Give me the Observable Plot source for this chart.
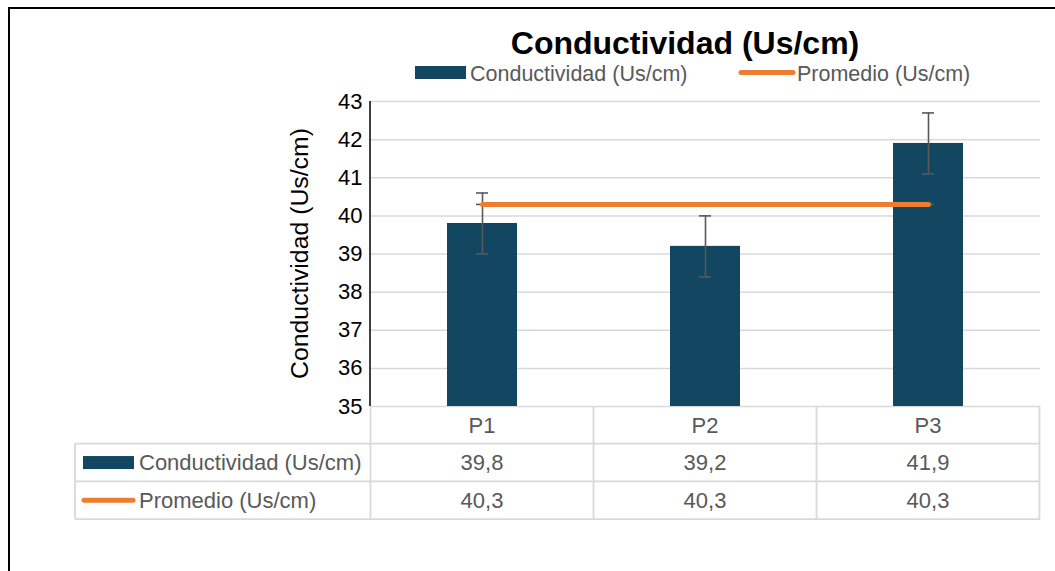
<!DOCTYPE html>
<html>
<head>
<meta charset="utf-8">
<script src="https://cdn.jsdelivr.net/npm/d3@7"></script>
<script src="https://cdn.jsdelivr.net/npm/@observablehq/plot@0.6"></script>
<style>
  body { margin: 0; background: #fff; }
  #wrap { position: relative; width: 1055px; height: 571px; overflow: hidden; background: #fff; }
  #frame { position: absolute; left: 8px; top: 7px; width: 1200px; height: 800px; border-left: 2px solid #000; border-top: 2px solid #000; }
  #chart { position: absolute; left: 0; top: 0; }
</style>
</head>
<body>
<div id="wrap"><div id="frame"></div><div id="chart"></div></div>
<script>
// ---- data ----
const categories = ["P1", "P2", "P3"];
const conductividad = [39.8, 39.2, 41.9];
const errores = [0.8, 0.8, 0.8];
const promedio = [40.3, 40.3, 40.3];
const yTicks = [35, 36, 37, 38, 39, 40, 41, 42, 43];
const seriesNames = ["Conductividad (Us/cm)", "Promedio (Us/cm)"];
const titleText = "Conductividad (Us/cm)";
const yLabel = "Conductividad (Us/cm)";

const FONT = "'Liberation Sans', Arial, sans-serif";
const BAR = "#124661";
const ORANGE = "#ED7D31";
const ERR = "#595959";
const GRID = "#d9d9d9";
const TXT = "#595959";

const data = categories.map((c, i) => ({cat: c, value: conductividad[i], err: errores[i], avg: promedio[i]}));
const fmt = v => v.toFixed(1).replace(".", ",");

const chart = Plot.plot({
  width: 1055,
  height: 571,
  marginTop: 101,
  marginBottom: 165,
  marginLeft: 370,
  marginRight: 15,
  style: {fontFamily: FONT, background: "transparent", overflow: "visible"},
  x: {domain: categories, paddingInner: 0.686, paddingOuter: 0.343, axis: null},
  y: {domain: [yTicks[0], yTicks[yTicks.length - 1]]},
  marks: [
    Plot.gridY(yTicks, {stroke: GRID, strokeOpacity: 1, strokeWidth: 1.5}),
    Plot.barY(data, {x: "cat", y1: () => yTicks[0], y2: "value", fill: BAR}),
    Plot.ruleX(data, {x: "cat", y1: d => d.value - d.err, y2: d => d.value + d.err, stroke: ERR, strokeWidth: 1.6}),
    Plot.tickY(data, {x: "cat", y: d => d.value - d.err, stroke: ERR, strokeWidth: 1.6, insetLeft: 29, insetRight: 29}),
    Plot.tickY(data, {x: "cat", y: d => d.value + d.err, stroke: ERR, strokeWidth: 1.6, insetLeft: 29, insetRight: 29}),
    Plot.tickY(data, {x: "cat", y: "avg", stroke: ERR, strokeWidth: 1.6, insetLeft: 29, insetRight: 29}),
    Plot.lineY(data, {x: "cat", y: "avg", stroke: ORANGE, strokeWidth: 5, strokeLinecap: "round"}),
    Plot.axisY(yTicks, {tickSize: 0, tickPadding: 8, fontSize: 22, color: "#000", label: null, tickFormat: d => String(d)})
  ]
});
document.getElementById("chart").appendChild(chart);

// ---- extra drawing using the plot's scales ----
const svg = d3.select(chart);
const xs = chart.scale("x");
const ys = chart.scale("y");
const step = xs.step;
const bw = xs.bandwidth;
const xLeft = xs.range[0];
const xRight = xs.range[1];
const yTop = ys.apply(yTicks[yTicks.length - 1]);
const yBase = ys.apply(yTicks[0]);
const rowH = 37.7;
const tableLeft = 75;
const g = svg.append("g").attr("font-family", FONT).attr("text-anchor", "start");

// table grid
const lineAttrs = sel => sel.attr("stroke", GRID).attr("stroke-width", 1.8).attr("fill", "none");
for (let r = 1; r <= 3; r++) {
  lineAttrs(g.append("line").attr("x1", tableLeft).attr("x2", xRight)
    .attr("y1", yBase + r * rowH).attr("y2", yBase + r * rowH));
}
lineAttrs(g.append("line").attr("x1", tableLeft).attr("x2", tableLeft).attr("y1", yBase + rowH).attr("y2", yBase + 3 * rowH));
categories.forEach((c, i) => {
  const cx = xs.apply(c) + bw / 2;
  const left = cx - step / 2;
  lineAttrs(g.append("line").attr("x1", left).attr("x2", left).attr("y1", yBase).attr("y2", yBase + 3 * rowH));
  if (i === categories.length - 1) {
    lineAttrs(g.append("line").attr("x1", left + step).attr("x2", left + step).attr("y1", yBase).attr("y2", yBase + 3 * rowH));
  }
  g.append("text").attr("x", cx).attr("y", yBase + rowH / 2).attr("dy", "0.35em")
    .attr("text-anchor", "middle").attr("font-size", 22).attr("fill", TXT).text(c);
  g.append("text").attr("x", cx).attr("y", yBase + 1.5 * rowH).attr("dy", "0.35em")
    .attr("text-anchor", "middle").attr("font-size", 22).attr("fill", TXT).text(fmt(conductividad[i]));
  g.append("text").attr("x", cx).attr("y", yBase + 2.5 * rowH).attr("dy", "0.35em")
    .attr("text-anchor", "middle").attr("font-size", 22).attr("fill", TXT).text(fmt(promedio[i]));
});
// row headers
g.append("rect").attr("x", 83).attr("y", yBase + 1.5 * rowH - 6.5).attr("width", 51).attr("height", 13).attr("fill", BAR);
g.append("text").attr("x", 139).attr("y", yBase + 1.5 * rowH).attr("dy", "0.35em")
  .attr("font-size", 22).attr("fill", TXT).text(seriesNames[0]);
g.append("line").attr("x1", 84).attr("x2", 133).attr("y1", yBase + 2.5 * rowH).attr("y2", yBase + 2.5 * rowH)
  .attr("stroke", ORANGE).attr("stroke-width", 5).attr("stroke-linecap", "round");
g.append("text").attr("x", 139).attr("y", yBase + 2.5 * rowH).attr("dy", "0.35em")
  .attr("font-size", 22).attr("fill", TXT).text(seriesNames[1]);

// black y axis line
g.append("line").attr("x1", xLeft).attr("x2", xLeft).attr("y1", yTop).attr("y2", yBase)
  .attr("stroke", "#000").attr("stroke-width", 1.5);

// y axis label
g.append("text").attr("transform", `translate(${xLeft - 62},${(yTop + yBase) / 2}) rotate(-90)`)
  .attr("text-anchor", "middle").attr("font-size", 24.8).attr("fill", "#000").text(yLabel);

// title
g.append("text").attr("x", 685).attr("y", 54).attr("text-anchor", "middle")
  .attr("font-size", 32).attr("font-weight", "bold").attr("fill", "#000").text(titleText);

// legend
g.append("rect").attr("x", 415).attr("y", 66).attr("width", 51).attr("height", 13).attr("fill", BAR);
g.append("text").attr("x", 470).attr("y", 73).attr("dy", "0.35em").attr("font-size", 21.5).attr("fill", TXT).text(seriesNames[0]);
g.append("line").attr("x1", 741).attr("x2", 793).attr("y1", 72.5).attr("y2", 72.5)
  .attr("stroke", ORANGE).attr("stroke-width", 5).attr("stroke-linecap", "round");
g.append("text").attr("x", 797).attr("y", 73).attr("dy", "0.35em").attr("font-size", 21.5).attr("fill", TXT).text(seriesNames[1]);
</script>
</body>
</html>
